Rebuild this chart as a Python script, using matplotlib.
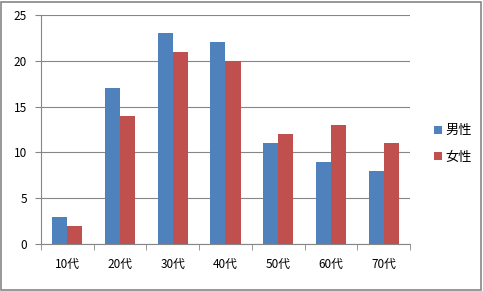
import matplotlib
matplotlib.use("Agg")
import matplotlib.pyplot as plt
import numpy as np
from matplotlib.patches import Rectangle

plt.rcParams['font.family'] = ['Noto Sans CJK JP', 'DejaVu Sans']

categories = ["10代", "20代", "30代", "40代", "50代", "60代", "70代"]
male = [3, 17, 23, 22, 11, 9, 8]
female = [2, 14, 21, 20, 12, 13, 11]
series_names = ["男性", "女性"]
yticks = [0, 5, 10, 15, 20, 25]

fig = plt.figure(figsize=(4.83, 2.91), dpi=100)
ax = fig.add_axes([41/483, 1-244/291, (410-41)/483, (244-15)/291])

x = np.arange(len(categories))
w = 1/3.5
ax.bar(x - w/2, male, w, color="#4F81BD", label=series_names[0], zorder=3)
ax.bar(x + w/2, female, w, color="#C0504D", label=series_names[1], zorder=3)

ax.set_xlim(-0.5, len(categories) - 0.5)
ax.set_ylim(0, 25)
ax.set_yticks(yticks)
ax.set_xticks(x)
ax.set_xticklabels(categories)
ax.set_xticks(np.arange(-0.5, len(categories), 1), minor=True)
ax.tick_params(axis='x', which='major', length=0, pad=10, labelsize=8.5)
ax.tick_params(axis='x', which='minor', length=4, color="#868686", direction='out')
ax.tick_params(axis='y', length=4, color="#868686", labelsize=8.5, pad=6)
ax.yaxis.grid(True, color="#868686", linewidth=0.8, zorder=0)
for s in ["top", "right"]:
    ax.spines[s].set_visible(False)
for s in ["left", "bottom"]:
    ax.spines[s].set_color("#868686")
    ax.spines[s].set_linewidth(0.8)
ax.spines["bottom"].set_zorder(4)

leg = fig.legend(loc="center left", bbox_to_anchor=(422/483, 1-144/291), frameon=False,
                 fontsize=9.5, handlelength=0.6, handleheight=0.6, handletextpad=0.3,
                 labelspacing=1.0)

fig.patches.append(Rectangle((1/483, 1/291), 480/483, 288/291, transform=fig.transFigure,
                             fill=False, edgecolor="#868686", linewidth=1.2))

fig.savefig("out.png", dpi=100)
